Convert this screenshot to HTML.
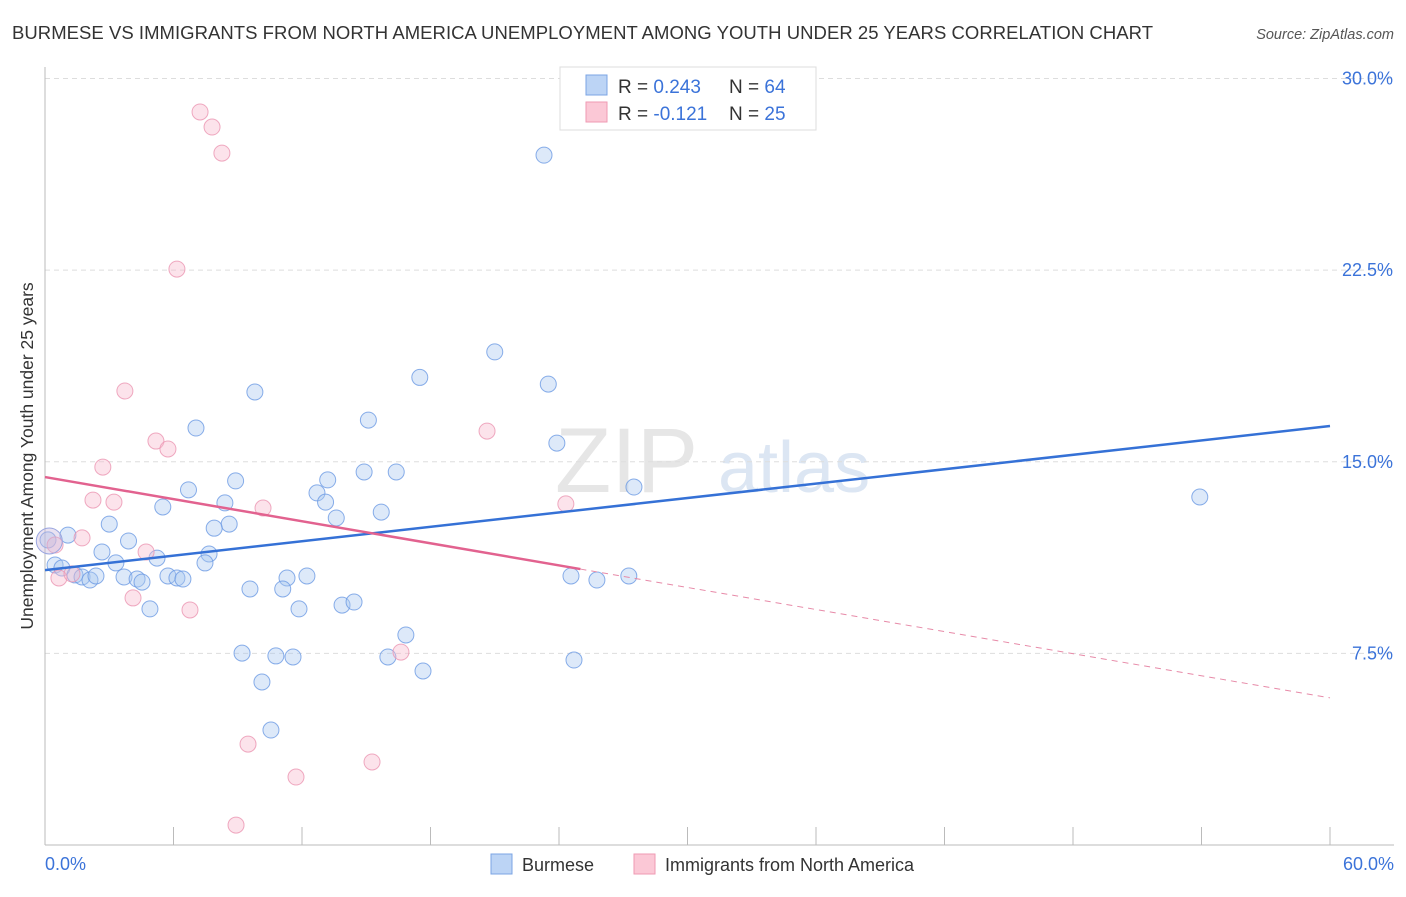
<!DOCTYPE html>
<html><head><meta charset="utf-8"><style>
body{margin:0;background:#fff;font-family:"Liberation Sans",sans-serif;}
svg text{font-family:"Liberation Sans",sans-serif;}
</style></head><body>
<svg id="chart" width="1406" height="892">
<text x="12" y="39" font-size="18.5" fill="#333" textLength="1141">BURMESE VS IMMIGRANTS FROM NORTH AMERICA UNEMPLOYMENT AMONG YOUTH UNDER 25 YEARS CORRELATION CHART</text>
<text x="1394" y="39" font-size="14.5" fill="#555" font-style="italic" text-anchor="end">Source: ZipAtlas.com</text>
<g><text x="555" y="492" font-size="92" fill="#e6e6e6" font-family="Liberation Serif">ZIP</text><text x="718" y="492" font-size="72" fill="#dce6f3">atlas</text></g>
<g id="grid"></g>
<g id="axes"></g>
<g id="pts"></g>
<g id="trends"></g>
<text x="33" y="456" font-size="17.5" fill="#333" text-anchor="middle" transform="rotate(-90 33 456)">Unemployment Among Youth under 25 years</text>
<text x="45" y="870" font-size="18" fill="#3b73d9">0.0%</text>
<text x="1394" y="870" font-size="18" fill="#3b73d9" text-anchor="end">60.0%</text>
<g>
<rect x="560" y="67" width="256" height="63" fill="#fff" stroke="#ddd"/>
<rect x="586" y="75" width="21" height="20" fill="#bcd4f5" stroke="#7ba4e4"/>
<rect x="586" y="102" width="21" height="20" fill="#fbc8d6" stroke="#ef9ab3"/>
<text x="618" y="93" font-size="19" fill="#333">R = <tspan fill="#3b73d9">0.243</tspan></text>
<text x="729" y="93" font-size="19" fill="#333">N = <tspan fill="#3b73d9">64</tspan></text>
<text x="618" y="120" font-size="19" fill="#333">R = <tspan fill="#3b73d9">-0.121</tspan></text>
<text x="729" y="120" font-size="19" fill="#333">N = <tspan fill="#3b73d9">25</tspan></text>
</g>
<g>
<rect x="491" y="854" width="21" height="20" fill="#bcd4f5" stroke="#7ba4e4"/>
<text x="522" y="871" font-size="18" fill="#333">Burmese</text>
<rect x="634" y="854" width="21" height="20" fill="#fbc8d6" stroke="#ef9ab3"/>
<text x="665" y="871" font-size="18" fill="#333">Immigrants from North America</text>
</g>
</svg>
<script>
const blueX=[23.3,21.0,17.5,23.5,9.8,15.1,7.05,23.9,14.9,16.4,8.9,13.2,6.7,12.7,27.5,8.4,13.1,5.5,15.7,13.6,3.0,8.6,7.9,1.07,3.9,2.66,7.66,5.23,3.31,7.47,0.14,0.47,0.79,1.4,1.73,2.1,2.38,3.69,4.3,4.53,5.74,6.16,6.44,11.3,12.23,24.56,25.77,27.26,9.57,11.1,11.86,13.87,14.43,4.9,16.85,9.2,10.78,11.58,16.01,24.7,17.65,10.13,10.55,53.92];
const blueY=[27.0,19.3,18.3,18.04,17.73,16.63,16.32,15.73,14.6,14.6,14.25,14.29,13.9,13.78,14.01,13.39,13.42,13.23,13.03,12.8,12.56,12.56,12.4,12.13,11.9,11.47,11.39,11.23,11.04,11.04,11.94,10.96,10.84,10.57,10.49,10.37,10.53,10.49,10.41,10.29,10.53,10.45,10.41,10.45,10.53,10.53,10.37,10.53,10.02,10.02,9.24,9.39,9.51,9.24,8.22,7.51,7.4,7.36,7.36,7.24,6.81,6.38,4.5,13.62];
const pinkX=[7.24,7.8,8.26,6.16,3.73,5.18,5.74,2.7,2.24,3.22,10.18,24.32,20.64,1.73,0.47,4.72,0.65,1.26,4.11,6.77,16.62,9.48,15.27,11.72,8.92];
const pinkY=[28.69,28.1,27.08,22.54,17.77,15.81,15.5,14.79,13.5,13.42,13.19,13.35,16.2,12.02,11.74,11.47,10.45,10.61,9.67,9.2,7.55,3.95,3.25,2.66,0.78];
const yTicks=[7.5,15,22.5,30];
const yTickLabels=["7.5%","15.0%","22.5%","30.0%"];
const blueTrend=[[0,10.76],[60,16.4]];
const pinkTrendSolid=[[0,14.4],[25,10.8]];
const pinkTrendDash=[[25,10.8],[60,5.76]];
const NS="http://www.w3.org/2000/svg";
const sx=v=>45+v*(1285/60), sy=v=>845-v*25.55;
function mk(t,a,p){const e=document.createElementNS(NS,t);for(const k in a)e.setAttribute(k,a[k]);p.appendChild(e);return e;}
const grid=document.getElementById('grid'),axes=document.getElementById('axes'),pts=document.getElementById('pts'),tr=document.getElementById('trends');
yTicks.forEach((t,i)=>{
 const l=mk('line',{x1:45,x2:1394,y1:sy(t),y2:sy(t),stroke:'#ddd','stroke-dasharray':'5,4'},grid);
 
 
 const tx=mk('text',{x:1393,y:sy(t)+6,'font-size':18,fill:'#3b73d9','text-anchor':'end'},grid);
 tx.textContent=yTickLabels[i];
 
 
});
mk('line',{x1:45,x2:45,y1:67,y2:845,stroke:'#bbb'},axes);
mk('line',{x1:45,x2:1394,y1:845,y2:845,stroke:'#bbb'},axes);
for(let i=0;i<=10;i++){const t=mk('line',{x1:sx(i*6),x2:sx(i*6),y1:827,y2:845,stroke:'#bbb'},axes);
 
 }
function dots(X,Y,fill,stroke,name){X.forEach((x,i)=>{const c=mk('circle',{cx:sx(x),cy:sy(Y[i]),r:8,fill:fill,'fill-opacity':0.4,stroke:stroke,'stroke-width':1,'stroke-opacity':0.8},pts);
 
 });}
dots(blueX,blueY,'#a9c7f0','#6b9ae3','burmese-point');
dots(pinkX,pinkY,'#f8b9cc','#eb95b1','immigrants-point');
const big=mk('circle',{cx:sx(0.2),cy:sy(11.9),r:13,fill:'#c9b7dc','fill-opacity':0.4,stroke:'#9aa6e0'},pts);


function line(p,st,w,dash,name){const l=mk('line',{x1:sx(p[0][0]),y1:sy(p[0][1]),x2:sx(p[1][0]),y2:sy(p[1][1]),stroke:st,'stroke-width':w},tr);if(dash)l.setAttribute('stroke-dasharray',dash);
 
 }
line(blueTrend,'#3571d6',2.5,null,'burmese-trend');
line(pinkTrendSolid,'#e2628f',2.5,null,'immigrants-trend');
line(pinkTrendDash,'#e78aa8',1,'6,5','immigrants-trend-extension');
</script>
</body></html>
